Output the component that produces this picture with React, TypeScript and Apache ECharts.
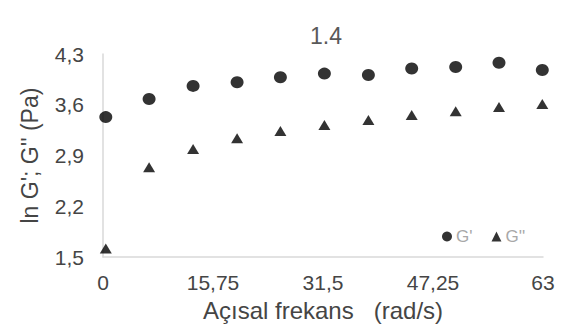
import React, { useEffect, useRef } from "react";
import * as echarts from "echarts";

// Angular frequency (rad/s)
const frequency = [0.4, 6.6, 12.9, 19.2, 25.4, 31.7, 38, 44.2, 50.5, 56.7, 62.9];
// ln G' (Pa)
const storageModulus = [3.43, 3.68, 3.86, 3.91, 3.98, 4.03, 4.01, 4.1, 4.12, 4.18, 4.08];
// ln G'' (Pa)
const lossModulus = [1.62, 2.74, 2.99, 3.14, 3.24, 3.32, 3.39, 3.46, 3.51, 3.57, 3.61];

const xTicks = [0, 15.75, 31.5, 47.25, 63];
const yTicks = [1.5, 2.2, 2.9, 3.6, 4.3];

const fmt = (v: number) => String(v).replace(".", ",");
const FONT = "Liberation Sans, Arial, sans-serif";
const TEXT = "#454545";

export default function App() {
  const ref = useRef<HTMLDivElement>(null);

  useEffect(() => {
    if (!ref.current) return;
    const chart = echarts.init(ref.current, null, { renderer: "svg" });
    const pair = (ys: number[]) => frequency.map((x, i) => [x, ys[i]]);
    chart.setOption({
      animation: false,
      backgroundColor: "#ffffff",
      title: {
        text: "1.4",
        left: 305,
        top: 19,
        textStyle: { fontFamily: FONT, fontSize: 23, fontWeight: "normal", color: "#595959" },
      },
      legend: {
        left: 437,
        top: 223,
        itemWidth: 10,
        itemHeight: 10,
        itemGap: 19,
        textStyle: { fontFamily: FONT, fontSize: 17, color: "#a8a8a8", padding: [0, 0, 0, -1] },
        data: [
          { name: "G'", icon: "circle" },
          { name: "G''", icon: "triangle" },
        ],
      },
      grid: { left: 103, right: 25, top: 54, bottom: 65 },
      xAxis: {
        type: "value",
        min: 0,
        max: 63,
        interval: 15.75,
        name: "Açısal frekans   (rad/s)",
        nameLocation: "middle",
        nameGap: 36,
        nameTextStyle: { fontFamily: FONT, fontSize: 24, color: TEXT },
        axisLine: { show: true, lineStyle: { color: "#d9d9d9", width: 1.5 } },
        axisTick: { show: false },
        splitLine: { show: false },
        axisLabel: {
          fontFamily: FONT,
          fontSize: 21,
          color: TEXT,
          margin: 15,
          customValues: xTicks,
          formatter: (v: number) => fmt(v),
        },
      },
      yAxis: {
        type: "value",
        min: 1.5,
        max: 4.3,
        interval: 0.7,
        name: "ln G'; G'' (Pa)",
        nameLocation: "middle",
        nameGap: 62,
        nameTextStyle: { fontFamily: FONT, fontSize: 23, color: TEXT },
        axisLine: { show: true, lineStyle: { color: "#d9d9d9", width: 1.5 } },
        axisTick: { show: false },
        splitLine: { show: false },
        axisLabel: {
          fontFamily: FONT,
          fontSize: 21,
          color: TEXT,
          margin: 19,
          customValues: yTicks,
          formatter: (v: number) => fmt(Math.round(v * 10) / 10),
        },
      },
      series: [
        {
          name: "G'",
          type: "scatter",
          symbol: "circle",
          symbolSize: [13, 12],
          clip: false,
          itemStyle: { color: "#000000" },
          data: pair(storageModulus),
        },
        {
          name: "G''",
          type: "scatter",
          symbol: "triangle",
          symbolSize: [12, 10],
          clip: false,
          itemStyle: { color: "#000000" },
          data: pair(lossModulus),
        },
      ],
    });
    return () => chart.dispose();
  }, []);

  return <div ref={ref} style={{ width: 568, height: 327, position: "absolute", left: 0, top: 0 }} />;
}
